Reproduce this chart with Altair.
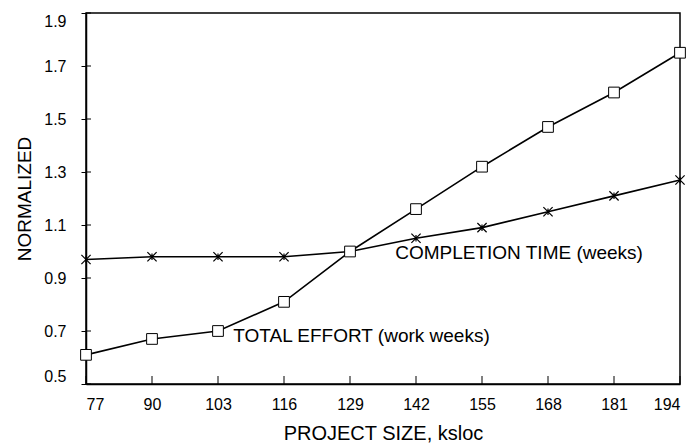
import altair as alt
import pandas as pd

sizes = [77, 90, 103, 116, 129, 142, 155, 168, 181, 194]
effort = [0.61, 0.67, 0.70, 0.81, 1.00, 1.16, 1.32, 1.47, 1.60, 1.75]
completion = [0.97, 0.98, 0.98, 0.98, 1.00, 1.05, 1.09, 1.15, 1.21, 1.27]
y_ticks = [0.5, 0.7, 0.9, 1.1, 1.3, 1.5, 1.7, 1.9]

labels = ["COMPLETION TIME (weeks)", "TOTAL EFFORT (work weeks)"]
label_x = [137.9, 106.0]
label_y = [0.994, 0.681]

W, H = 594, 371
FONT = "Liberation Sans"

df_e = pd.DataFrame({"size": sizes, "value": effort})
df_c = pd.DataFrame({"size": sizes, "value": completion})
df_lab = pd.DataFrame({"text": labels, "size": label_x, "value": label_y})
df_yt = pd.DataFrame({"value": y_ticks})
df_xt = pd.DataFrame({"size": sizes})

xs = alt.Scale(domain=[77, 194], nice=False, zero=False)
ys = alt.Scale(domain=[0.5, 1.9], nice=False, zero=False)

xenc = alt.X("size:Q", scale=xs, axis=alt.Axis(
    values=sizes, title="PROJECT SIZE, ksloc", format="d", ticks=False,
    labelFont=FONT, labelFontSize=16, labelColor="black", labelPadding=12,
    labelFlush=True,
    titleFont=FONT, titleFontSize=20, titleFontWeight="normal", titleColor="black",
    titlePadding=11, domainColor="black", domainWidth=1.5, grid=False))
yenc = alt.Y("value:Q", scale=ys, axis=alt.Axis(
    values=y_ticks, title="NORMALIZED", format=".1f", tickSize=5, tickColor="black",
    labelFont=FONT, labelFontSize=16, labelColor="black", labelPadding=15,
    labelFlush=True,
    titleFont=FONT, titleFontSize=19, titleFontWeight="normal", titleColor="black",
    titlePadding=9, domainColor="black", domainWidth=1.5, grid=False))

asterisk = "M-1,-1L1,1M-1,1L1,-1M0,-0.7L0,0.7"

line_e = alt.Chart(df_e).mark_line(color="black", strokeWidth=1.6).encode(x=xenc, y=yenc)
pts_e = alt.Chart(df_e).mark_point(shape="square", filled=True, fill="white",
                                   stroke="black", strokeWidth=1, size=115, opacity=1).encode(
    x="size:Q", y="value:Q")
line_c = alt.Chart(df_c).mark_line(color="black", strokeWidth=1.6).encode(x="size:Q", y="value:Q")
pts_c = alt.Chart(df_c).mark_point(shape=asterisk, filled=False, stroke="black",
                                   strokeWidth=1.2, size=85, opacity=1).encode(
    x="size:Q", y="value:Q")

text = alt.Chart(df_lab).mark_text(align="left", baseline="middle", font=FONT,
                                   fontSize=19, color="black").encode(
    x="size:Q", y="value:Q", text="text:N")

yt_in = alt.Chart(df_yt).mark_rule(color="black", strokeWidth=1).encode(
    y="value:Q", x=alt.value(0), x2=alt.value(5))
xt_in = alt.Chart(df_xt).mark_rule(color="black", strokeWidth=1).encode(
    x="size:Q", y=alt.value(H), y2=alt.value(H - 8))

chart = alt.layer(line_e, line_c, yt_in, xt_in, pts_c, pts_e, text).properties(
    width=W, height=H,
    autosize=alt.AutoSizeParams(type="none"),
    padding={"left": 78, "top": 5, "right": 6, "bottom": 62},
    background="white",
).configure_view(stroke="black", strokeWidth=1.5)

chart.save("out.html", embed_options={"renderer": "svg", "actions": False})
